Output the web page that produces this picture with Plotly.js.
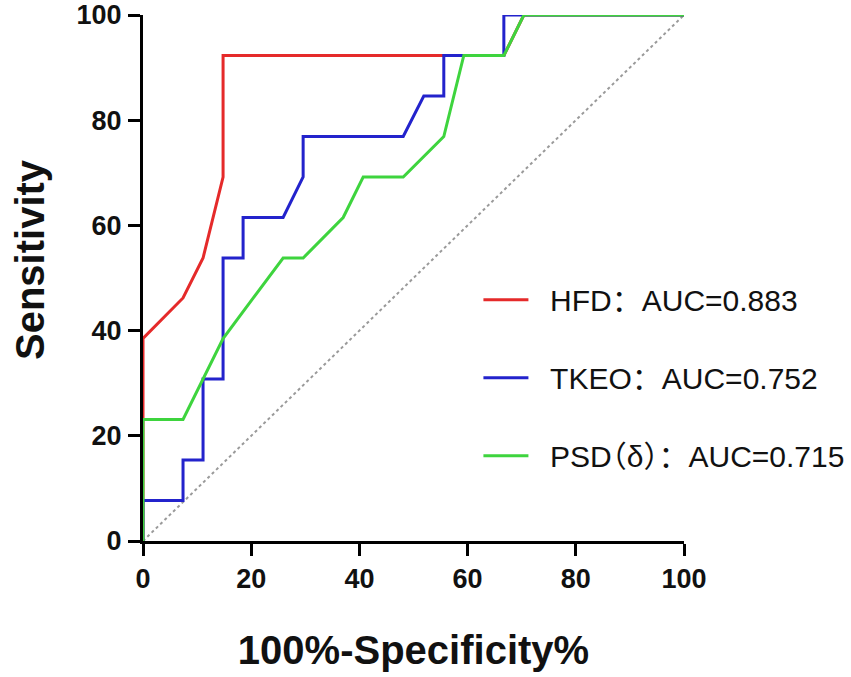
<!DOCTYPE html>
<html>
<head>
<meta charset="utf-8">
<script src="https://cdn.plot.ly/plotly-3.0.1.min.js"></script>
<style>html,body{margin:0;padding:0;background:#fff;}#chart{width:851px;height:677px;}</style>
</head>
<body>
<div id="chart"></div>
<script>
// 100%-Specificity% (x) and Sensitivity (y) for each ROC curve
var hfdX  = [0, 0, 7.4, 11.1, 14.8, 14.8, 66.7, 70.4, 100];
var hfdY  = [0, 38.5, 46.2, 53.8, 69.2, 92.3, 92.3, 100, 100];
var tkeoX = [0, 0, 7.4, 7.4, 11.1, 11.1, 14.8, 14.8, 18.5, 18.5, 25.9, 29.6, 29.6, 48.1, 51.9, 55.6, 55.6, 66.7, 66.7, 100];
var tkeoY = [0, 7.7, 7.7, 15.4, 15.4, 30.8, 30.8, 53.8, 53.8, 61.5, 61.5, 69.2, 76.9, 76.9, 84.6, 84.6, 92.3, 92.3, 100, 100];
var psdX  = [0, 0, 7.4, 11.1, 14.8, 25.9, 29.6, 37.0, 40.7, 48.1, 55.6, 59.3, 66.7, 70.4, 100];
var psdY  = [0, 23.1, 23.1, 30.8, 38.5, 53.8, 53.8, 61.5, 69.2, 69.2, 76.9, 92.3, 92.3, 100, 100];
var refX  = [0, 100];
var refY  = [0, 100];
var seriesNames = ["HFD：AUC=0.883", "TKEO：AUC=0.752", "PSD（δ）：AUC=0.715"];
var tickVals = [0, 20, 40, 60, 80, 100];
var xTitle = "100%-Specificity%";
var yTitle = "Sensitivity";

var baseFont = "Liberation Sans, Arial, Noto Sans CJK SC, sans-serif";
var pad = "\u00a0\u00a0";
// narrower (half-width) brackets, as in the reference
function legendLabel(s) {
  return pad + s.replace("（δ）", "<span style=\"font-feature-settings:'halt'\">（δ）</span>");
}

var traces = [
  {x: refX, y: refY, mode: "lines", showlegend: false, hoverinfo: "skip",
   line: {color: "#9a9a9a", width: 2, dash: "dot"}},
  {x: hfdX, y: hfdY, mode: "lines", name: legendLabel(seriesNames[0]), legendgroup: "a",
   line: {color: "#e52a2a", width: 3}},
  {x: tkeoX, y: tkeoY, mode: "lines", name: legendLabel(seriesNames[1]), legendgroup: "b",
   line: {color: "#2323cc", width: 3}},
  {x: psdX, y: psdY, mode: "lines", name: legendLabel(seriesNames[2]), legendgroup: "c",
   line: {color: "#3ed43e", width: 3}}
];

var axisCommon = {
  range: [0, 100], tickvals: tickVals, showgrid: false, zeroline: false,
  showline: true, linecolor: "#000", linewidth: 3, layer: "below traces",
  ticks: "outside", ticklen: 12, tickwidth: 3, tickcolor: "#000",
  tickfont: {family: baseFont, size: 27, color: "#111", weight: "bold"}
};

var layout = {
  width: 851, height: 677,
  margin: {l: 143, r: 167, t: 15, b: 136, autoexpand: false},
  paper_bgcolor: "#fff", plot_bgcolor: "#fff",
  font: {family: baseFont, color: "#111"},
  xaxis: Object.assign({}, axisCommon, {
    title: {text: xTitle, font: {family: baseFont, size: 40, weight: "bold", color: "#111"}, standoff: 43}
  }),
  yaxis: Object.assign({}, axisCommon, {ticklabelstandoff: 1}),
  annotations: [{
    text: yTitle, textangle: -90, xref: "paper", yref: "paper",
    x: -0.209, y: 0.536, xanchor: "center", yanchor: "middle", showarrow: false,
    font: {family: baseFont, size: 40, weight: "bold", color: "#111"}
  }],
  legend: {
    x: 0.62, y: 0.508, xanchor: "left", yanchor: "top",
    font: {family: baseFont, size: 30, color: "#111"},
    bgcolor: "rgba(0,0,0,0)", tracegroupgap: 36, itemwidth: 45
  },
  showlegend: true
};

Plotly.newPlot("chart", traces, layout, {displayModeBar: false, staticPlot: true});
</script>
</body>
</html>
